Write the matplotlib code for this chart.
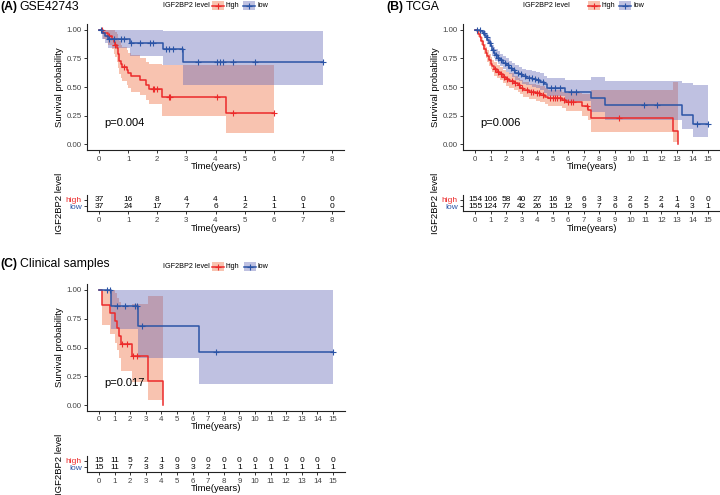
import numpy as np
import matplotlib
matplotlib.use('Agg')
import matplotlib.pyplot as plt
from matplotlib.patches import Rectangle

plt.rcParams['font.family'] = ['Liberation Sans', 'DejaVu Sans']

# ---- GSE42743 (A) ----
a_high_t = [0, 0.15, 0.3, 0.45, 0.5, 0.55, 0.6, 0.65, 0.7, 0.75, 0.8, 0.95, 1.0, 1.1, 1.4, 1.6, 1.7, 2.15, 4.35]
a_high_s = [1, .973, .946, .919, .892, .865, .838, .784, .73, .703, .676, .649, .622, .595, .56, .52, .485, .41, .27]
a_high_lo = [1, .92, .87, .83, .79, .76, .72, .67, .61, .58, .55, .52, .49, .46, .43, .39, .35, .25, .10]
a_high_hi = [1, 1, 1, 1, 1, .98, .96, .93, .90, .87, .85, .82, .80, .78, .75, .72, .70, .69, .69]
a_high_end = 6.0
a_high_cens = [0.1, 0.35, 0.55, 0.85, 1.85, 1.9, 2.0, 2.4, 2.45, 4.05, 4.6, 6.0]

a_low_t = [0, 0.1, 0.2, 0.3, 1.05, 2.2, 2.9]
a_low_s = [1, .973, .946, .92, .885, .83, .72]
a_low_lo = [1, .92, .88, .84, .77, .69, .52]
a_low_hi = [1, 1, 1, 1, 1, .99, .99]
a_low_end = 7.7
a_low_cens = [0.08, 0.35, 0.5, 0.75, 0.85, 1.1, 1.4, 1.75, 1.85, 2.3, 2.4, 2.55, 2.85,
              3.4, 4.05, 4.15, 4.25, 4.6, 5.35, 7.7]

a_risk_high = [37, 16, 8, 4, 4, 1, 1, 0, 0]
a_risk_low = [37, 24, 17, 7, 6, 2, 1, 1, 0]

# ---- TCGA (B) ----
b_high_t = [0, 0.1, 0.2, 0.3, 0.4, 0.5, 0.6, 0.7, 0.8, 0.9, 1.0, 1.1, 1.25, 1.4, 1.6, 1.8, 2.0, 2.2,
            2.5, 2.75, 2.9, 3.1, 3.5, 3.9, 4.2, 4.5, 4.7, 5.6, 5.85, 6.9, 7.3, 7.45, 12.77, 13.06]
b_high_s = [1.0, .99, .965, .935, .90, .865, .83, .80, .77, .735, .705, .68, .655, .635, .615, .59, .57,
            .555, .535, .515, .495, .475, .46, .445, .43, .415, .40, .385, .365, .33, .30, .225, .115, 0.0]
b_high_lo = [1.0, .975, .94, .905, .865, .825, .785, .755, .72, .685, .655, .63, .60, .58, .56, .535, .51,
             .495, .475, .455, .435, .415, .395, .38, .365, .35, .33, .315, .29, .25, .21, .108, .02, 0.0]
b_high_hi = [1.0, 1.0, .99, .97, .94, .905, .875, .85, .82, .79, .765, .74, .715, .695, .675, .65, .635,
             .62, .60, .58, .565, .545, .53, .52, .505, .49, .475, .46, .445, .44, .435, .47, .545, 0.0]
b_high_end = 13.06
b_high_cens = [1.3, 1.45, 1.65, 1.85, 2.05, 2.35, 2.6, 2.85, 3.05, 3.35, 3.6, 3.75, 4.0, 4.1, 4.35,
               4.8, 5.0, 5.15, 5.3, 5.45, 5.7, 6.0, 6.15, 6.3, 7.2, 9.25]

b_low_t = [0, 0.2, 0.35, 0.5, 0.6, 0.7, 0.8, 0.9, 1.0, 1.1, 1.2, 1.3, 1.45, 1.6, 1.8, 2.0, 2.2, 2.4,
           2.6, 2.8, 3.0, 3.3, 3.7, 3.9, 4.2, 4.45, 4.65, 5.8, 7.45, 8.4, 13.3, 14.06]
b_low_s = [1.0, .995, .985, .97, .955, .935, .91, .885, .855, .82, .795, .775, .755, .735, .71, .69,
           .665, .645, .625, .61, .595, .58, .57, .56, .545, .525, .495, .46, .40, .345, .255, .175]
b_low_lo = [1.0, .985, .97, .95, .93, .905, .875, .845, .81, .775, .75, .725, .705, .68, .655, .635,
            .61, .585, .565, .55, .53, .515, .50, .49, .47, .45, .42, .38, .28, .21, .137, .064]
b_low_hi = [1.0, 1.0, 1.0, .995, .985, .97, .95, .93, .90, .87, .845, .83, .81, .79, .77, .75,
            .725, .71, .69, .675, .66, .65, .64, .63, .62, .60, .58, .56, .59, .55, .536, .516]
b_low_end = 15.0
b_low_cens = [0.15, 0.3, 0.55, 0.75, 0.95, 1.15, 1.35, 1.5, 1.7, 1.95, 2.15, 2.3, 2.5, 2.75, 2.95,
              3.2, 3.45, 3.65, 3.85, 4.05, 4.35, 4.9, 5.15, 5.45, 6.2, 6.5, 10.9, 11.7, 14.3, 15.0]

b_risk_high = [154, 106, 58, 40, 27, 16, 9, 6, 3, 3, 2, 2, 2, 1, 0, 0]
b_risk_low = [155, 124, 77, 42, 26, 15, 12, 9, 7, 6, 6, 5, 4, 4, 3, 1]

# ---- Clinical samples (C) ----
c_high_t = [0, 0.17, 0.7, 1.05, 1.15, 1.25, 1.38, 2.1, 3.16, 4.12]
c_high_s = [1, .867, .80, .733, .667, .60, .533, .427, .213, 0]
c_high_lo = [1, .70, .62, .54, .48, .41, .30, .20, .04, 0]
c_high_hi = [1, 1, 1, .97, .93, .90, .85, .88, .95, 0]
c_high_end = 4.12
c_high_cens = [1.5, 1.8, 2.2, 2.42]

c_low_t = [0, 0.77, 2.52, 6.43]
c_low_s = [1, .857, .686, .457]
c_low_lo = [1, .66, .41, .18]
c_low_hi = [1, 1, 1, 1]
c_low_end = 15.0
c_low_cens = [0.49, 0.7, 1.13, 1.67, 2.31, 2.42, 2.74, 7.5, 15.0]

c_risk_high = [15, 11, 5, 2, 1, 0, 0, 0, 0, 0, 0, 0, 0, 0, 0, 0]
c_risk_low = [15, 11, 7, 3, 3, 3, 3, 2, 1, 1, 1, 1, 1, 1, 1, 1]

RED = '#EC2A2A'
BLUE = '#2B54A6'
RED_FILL = '#EE6A3A'
BLUE_FILL = '#6166B6'
FILL_ALPHA = 0.4

W, H = 720, 495
fig = plt.figure(figsize=(7.2, 4.95), dpi=100)


def box(l, t, r, b):
    return fig.add_axes([l / W, 1 - b / H, (r - l) / W, (b - t) / H])


def classic(ax):
    for sp in ['top', 'right']:
        ax.spines[sp].set_visible(False)
    for sp in ['left', 'bottom']:
        ax.spines[sp].set_linewidth(0.8)
        ax.spines[sp].set_color('#222222')
    ax.tick_params(length=2.5, width=0.7, labelsize=5.7, color='#333333',
                   labelcolor='#444444', pad=1.5)


def km(ax, t, s, lo, hi, end, cens, col, fill, draw='both'):
    t = np.asarray(t, float)
    s = np.asarray(s, float)
    lo = np.asarray(lo, float)
    hi = np.asarray(hi, float)
    if end > t[-1]:
        tt = np.append(t, end)
        ss, ll, hh = np.append(s, s[-1]), np.append(lo, lo[-1]), np.append(hi, hi[-1])
    else:
        tt, ss, ll, hh = t, s, lo, hi
    if draw in ('both', 'fill'):
        ax.fill_between(tt, ll, hh, step='post', color=fill, alpha=FILL_ALPHA, lw=0)
    if draw in ('both', 'line'):
        ax.step(tt, ss, where='post', color=col, lw=1.1)
        idx = np.searchsorted(t, cens, side='right') - 1
        ax.plot(cens, s[idx], ls='none', marker='+', ms=4.2, mew=0.8, color=col)


def main_panel(ax, xmax, curves, pval, px):
    classic(ax)
    for c in curves:
        km(ax, *c, draw='fill')
    for c in curves:
        km(ax, *c, draw='line')
    ax.set_xlim(-0.05 * xmax, 1.05 * xmax)
    ax.set_ylim(-0.05, 1.05)
    ax.set_xticks(range(0, xmax + 1))
    ax.set_yticks([0, 0.25, 0.5, 0.75, 1.0])
    ax.set_yticklabels(['0.00', '0.25', '0.50', '0.75', '1.00'])
    ax.set_xlabel('Time(years)', fontsize=6.8, color='black')
    ax.set_ylabel('Survival probability', fontsize=6.8, color='black')
    ax.xaxis.label.set_va('center')
    ax.yaxis.label.set_va('center')
    ax.xaxis.set_label_coords(0.5, -0.127)
    ax.yaxis.set_label_coords(-0.107, 0.5)
    ax.text(px, 0.19, pval, fontsize=8.0, ha='left', va='center')


def risk_table(ax, xmax, high, low, ylim, xlab_y):
    classic(ax)
    ax.set_xlim(-0.05 * xmax, 1.05 * xmax)
    ax.set_ylim(*ylim)
    ax.set_xticks(range(0, xmax + 1))
    ax.set_yticks([1, 2])
    ax.set_yticklabels(['low', 'high'])
    ax.get_yticklabels()[0].set_color(BLUE)
    ax.get_yticklabels()[1].set_color(RED)
    ax.tick_params(axis='y', labelsize=6.0)
    for i, n in enumerate(high):
        ax.text(i, 2, str(n), ha='center', va='center', fontsize=6.0)
    for i, n in enumerate(low):
        ax.text(i, 1, str(n), ha='center', va='center', fontsize=6.0)
    ax.set_xlabel('Time(years)', fontsize=6.8, color='black')
    ax.set_ylabel('IGF2BP2 level', fontsize=6.8, color='black')
    ax.xaxis.label.set_va('center')
    ax.yaxis.label.set_va('center')
    ax.xaxis.set_label_coords(0.5, xlab_y)
    ax.yaxis.set_label_coords(-0.107, 0.5)


# panel A
axA = box(87.4, 24, 343.6, 150)
main_panel(axA, 8, [
    (a_high_t, a_high_s, a_high_lo, a_high_hi, a_high_end, a_high_cens, RED, RED_FILL),
    (a_low_t, a_low_s, a_low_lo, a_low_hi, a_low_end, a_low_cens, BLUE, BLUE_FILL),
], 'p=0.004', 0.17)
tA = box(87.4, 195, 343.6, 211)
risk_table(tA, 8, a_risk_high, a_risk_low, (0.17, 2.83), -1.12)

# panel B
axB = box(463.4, 24, 719.6, 150)
main_panel(axB, 15, [
    (b_high_t, b_high_s, b_high_lo, b_high_hi, b_high_end, b_high_cens, RED, RED_FILL),
    (b_low_t, b_low_s, b_low_lo, b_low_hi, b_low_end, b_low_cens, BLUE, BLUE_FILL),
], 'p=0.006', 0.32)
tB = box(463.4, 195, 719.6, 211)
risk_table(tB, 15, b_risk_high, b_risk_low, (0.17, 2.83), -1.12)

# panel C
axC = box(87.3, 284.25, 344.7, 410.75)
main_panel(axC, 15, [
    (c_high_t, c_high_s, c_high_lo, c_high_hi, c_high_end, c_high_cens, RED, RED_FILL),
    (c_low_t, c_low_s, c_low_lo, c_low_hi, c_low_end, c_low_cens, BLUE, BLUE_FILL),
], 'p=0.017', 0.32)
tC = box(87.3, 456, 344.7, 472)
risk_table(tC, 15, c_risk_high, c_risk_low, (0.2, 2.8), -1.02)

# overlay for titles and legends (pixel coordinates)
ov = fig.add_axes([0, 0, 1, 1])
ov.set_xlim(0, W)
ov.set_ylim(H, 0)
ov.axis('off')

for lab, name, x0, x1, y in [('(A)', 'GSE42743', 0, 19, 7),
                             ('(B)', 'TCGA', 386, 406, 7),
                             ('(C)', 'Clinical samples', 0, 20, 264)]:
    ov.text(x0, y, lab, fontsize=8.8, fontweight='bold', ha='left', va='center')
    ov.text(x1, y, name, fontsize=8.8, ha='left', va='center')


def legend(xt, xh, xl, y):
    ov.text(xt, y, 'IGF2BP2 level', fontsize=5.2, ha='left', va='center')
    for xk, col, fill, lab in [(xh, RED, RED_FILL, 'high'), (xl, BLUE, BLUE_FILL, 'low')]:
        ov.add_patch(Rectangle((xk, y - 4.5), 12, 9, facecolor=fill, alpha=FILL_ALPHA, lw=0))
        ov.plot([xk, xk + 12], [y, y], color=col, lw=1.1)
        ov.plot([xk + 6], [y], marker='+', ms=4, mew=0.8, color=col)
        ov.text(xk + 14, y, lab, fontsize=5.2, ha='left', va='center')


legend(163, 212, 243, 5.5)
legend(523, 588, 619, 5.5)
legend(163, 212, 244, 266.5)

fig.savefig('out.png', dpi=100)
